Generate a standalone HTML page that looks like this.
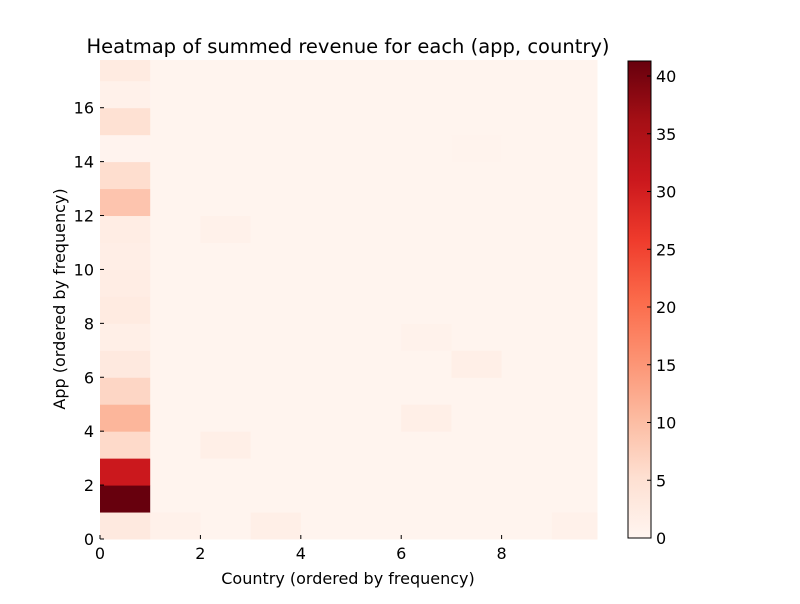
<!DOCTYPE html>
<html><head><meta charset="utf-8"><style>
body{margin:0;background:#fff;font-family:"DejaVu Sans",sans-serif;}
svg text{font-family:"DejaVu Sans","Liberation Sans",sans-serif;}
</style></head><body>
<svg id="chart" width="800" height="600" xmlns="http://www.w3.org/2000/svg">
<rect width="800" height="600" fill="#fff"/>
<text x="348" y="53" font-size="19.5" text-anchor="middle">Heatmap of summed revenue for each (app, country)</text>
<g id="cells"></g>
<g id="axes"></g>
<text x="348" y="584" font-size="16" text-anchor="middle">Country (ordered by frequency)</text>
<text transform="translate(65,299) rotate(-90)" font-size="16" text-anchor="middle">App (ordered by frequency)</text>
<defs><linearGradient id="cbg" x1="0" y1="1" x2="0" y2="0">
<stop offset="0" stop-color="#fff5f0"/><stop offset="0.125" stop-color="#fee0d2"/><stop offset="0.25" stop-color="#fcbba1"/><stop offset="0.375" stop-color="#fc9272"/><stop offset="0.5" stop-color="#fb6a4a"/><stop offset="0.625" stop-color="#ef3b2c"/><stop offset="0.75" stop-color="#cb181d"/><stop offset="0.875" stop-color="#a50f15"/><stop offset="1" stop-color="#67000d"/>
</linearGradient></defs>
<rect x="628" y="61" width="23" height="477" fill="url(#cbg)" stroke="#000" stroke-width="1"/>
<g id="cbticks"></g>
</svg>
<script>
const apps = [0,1,2,3,4,5,6,7,8,9,10,11,12,13,14,15,16,17];
const countries = [0,1,2,3,4,5,6,7,8,9];
const baseValue = 0.3;
const col0Values = [3,41.3,31,6,11,6.5,3,1.5,2.5,2,1.8,2,9,5.5,0.4,5,1,2.5];
const extraCells = [[0,1,1],[0,3,1.5],[0,9,1],[3,2,1.5],[4,6,1.5],[6,7,1.5],[7,6,0.8],[11,2,1],[14,7,0.6]];
const vmax = 41.3;
const xTicks = [0,2,4,6,8];
const yTicks = [0,2,4,6,8,10,12,14,16];
const cbTicks = [0,5,10,15,20,25,30,35,40];

const X0=100, X1=597, XMAX=9.9, Y0=539, Y1=60, YMAX=17.77;
const sx = v => X0 + v*(X1-X0)/XMAX;
const sy = v => Y0 - v*(Y0-Y1)/YMAX;
const stops=["#fff5f0","#fee0d2","#fcbba1","#fc9272","#fb6a4a","#ef3b2c","#cb181d","#a50f15","#67000d"].map(h=>[1,3,5].map(i=>parseInt(h.substr(i,2),16)));
function color(v){let t=Math.max(0,Math.min(1,v/vmax))*8;let i=Math.min(7,Math.floor(t));let f=t-i;
 const c=stops[i].map((a,k)=>Math.round(a+(stops[i+1][k]-a)*f));return `rgb(${c})`;}
const NS="http://www.w3.org/2000/svg";
const grid = apps.map((a,r)=>countries.map((c,j)=>j===0?col0Values[r]:baseValue));
extraCells.forEach(([r,c,v])=>grid[r][c]=v);
const cells=document.getElementById('cells');
apps.forEach((a,r)=>countries.forEach((c,j)=>{
 const x0=sx(c), x1=sx(Math.min(c+1,XMAX)), y0=sy(Math.min(a+1,YMAX)), y1=sy(a);
 const el=document.createElementNS(NS,'rect');
 el.setAttribute('x',x0);el.setAttribute('y',y0);el.setAttribute('width',x1-x0+0.5);el.setAttribute('height',y1-y0+0.5);
 el.setAttribute('fill',color(grid[r][j]));
 
 
 cells.appendChild(el);
}));
const axes=document.getElementById('axes');
function mk(tag,attrs,txt){const e=document.createElementNS(NS,tag);for(const k in attrs)e.setAttribute(k,attrs[k]);if(txt!==undefined)e.textContent=txt;return e;}
xTicks.forEach(t=>{
 const l=mk('line',{x1:sx(t),x2:sx(t),y1:Y0,y2:Y0-4,stroke:'#000'});
 
 
 axes.appendChild(l);
 const tx=mk('text',{x:sx(t),y:Y0+20,'font-size':16,'text-anchor':'middle'},t);
 
 
 axes.appendChild(tx);
});
yTicks.forEach(t=>{
 const l=mk('line',{x1:X0,x2:X0+4,y1:sy(t),y2:sy(t),stroke:'#000'});
 
 
 axes.appendChild(l);
 const tx=mk('text',{x:X0-6,y:sy(t)+6,'font-size':16,'text-anchor':'end'},t);
 
 
 axes.appendChild(tx);
});
const cb=document.getElementById('cbticks');
cbTicks.forEach(t=>{
 const y=538-t*(477/vmax);
 const l=mk('line',{x1:647,x2:651,y1:y,y2:y,stroke:'#000'});
 
 
 cb.appendChild(l);
 const tx=mk('text',{x:656,y:y+6,'font-size':16},t);
 
 
 cb.appendChild(tx);
});
</script>
</body></html>
